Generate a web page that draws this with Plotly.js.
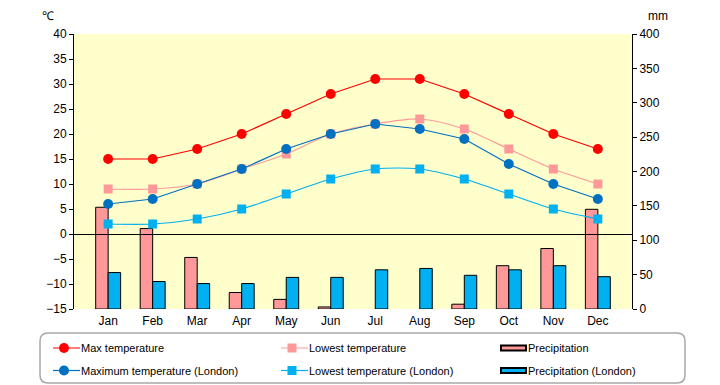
<!DOCTYPE html>
<html>
<head>
<meta charset="utf-8">
<script src="https://cdn.plot.ly/plotly-3.0.1.min.js"></script>
<style>html,body{margin:0;padding:0;background:#fff;}#chart{width:720px;height:385px;}</style>
</head>
<body>
<div id="chart"></div>
<script>
var months = ["Jan","Feb","Mar","Apr","May","Jun","Jul","Aug","Sep","Oct","Nov","Dec"];
var maxTemp = [15,15,17,20,24,28,31,31,28,24,20,17];
var lowTemp = [9,9,10,13,16,20,22,23,21,17,13,10];
var precip = [148,117,75,24,14,3,0,0,7,63,88,145];
var londonMax = [6,7,10,13,17,20,22,21,19,14,10,7];
var londonLow = [2,2,3,5,8,11,13,13,11,8,5,3];
var londonPrecip = [53,40,37,37,46,46,57,59,49,57,63,47];

var FONT = "'Liberation Sans', Arial, sans-serif";

function outline(vals){ return vals.map(function(v){ return v > 0 ? 1 : 0; }); }

var traces = [
  {name:"Max temperature", x:months, y:maxTemp, type:"scatter", mode:"lines+markers", yaxis:"y2",
   line:{color:"#FF0000", width:1.2}, marker:{symbol:"circle", size:10, color:"#FF0000"}, legend:"legend"},
  {name:"Lowest temperature", x:months, y:lowTemp, type:"scatter", mode:"lines+markers", yaxis:"y2",
   line:{color:"#FF9999", width:1.2, shape:"spline", smoothing:0.8}, marker:{symbol:"square", size:9, color:"#FF9999"}, legend:"legend2"},
  {name:"Precipitation", x:months, y:precip, type:"bar", yaxis:"y",
   marker:{color:"#FF9999", line:{color:"#000", width:outline(precip)}}, legend:"legend3"},
  {name:"Maximum temperature (London)", x:months, y:londonMax, type:"scatter", mode:"lines+markers", yaxis:"y2",
   line:{color:"#0070C0", width:1.2}, marker:{symbol:"circle", size:10, color:"#0070C0"}, legend:"legend4"},
  {name:"Lowest temperature (London)", x:months, y:londonLow, type:"scatter", mode:"lines+markers", yaxis:"y2",
   line:{color:"#00B0F0", width:1.2, shape:"spline", smoothing:0.8}, marker:{symbol:"square", size:9, color:"#00B0F0"}, legend:"legend5"},
  {name:"Precipitation (London)", x:months, y:londonPrecip, type:"bar", yaxis:"y",
   marker:{color:"#00B0F0", line:{color:"#000", width:outline(londonPrecip)}}, legend:"legend6"}
];

function px2x(p){return (p-74)/558;}
function px2y(p){return (309-p)/275;}
var L=40,R=685,T=333,B=383,rx=8,ry=8;
var framePath = "M"+px2x(L+rx)+","+px2y(T)+" L"+px2x(R-rx)+","+px2y(T)+
  " Q"+px2x(R)+","+px2y(T)+" "+px2x(R)+","+px2y(T+ry)+
  " L"+px2x(R)+","+px2y(B-ry)+" Q"+px2x(R)+","+px2y(B)+" "+px2x(R-rx)+","+px2y(B)+
  " L"+px2x(L+rx)+","+px2y(B)+" Q"+px2x(L)+","+px2y(B)+" "+px2x(L)+","+px2y(B-ry)+
  " L"+px2x(L)+","+px2y(T+ry)+" Q"+px2x(L)+","+px2y(T)+" "+px2x(L+rx)+","+px2y(T)+" Z";

function legendOpts(xPx, yPx){
  return {orientation:"h", xanchor:"left", yanchor:"middle", bgcolor:"rgba(0,0,0,0)",
    font:{family:FONT, size:11, color:"#000"}, itemwidth:30,
    x:px2x(xPx), y:px2y(yPx)};
}

var layout = {
  width:720, height:385,
  margin:{l:74, r:88, t:34, b:76, autoexpand:false},
  paper_bgcolor:"#FFFFFF",
  plot_bgcolor:"#FFFFCC",
  font:{family:FONT, size:12, color:"#000"},
  barmode:"group", bargap:0.44, bargroupgap:0,
  showlegend:true,
  xaxis:{type:"category", showline:false, ticks:"", showgrid:false, zeroline:false,
    ticklabelstandoff:3, tickfont:{family:FONT, size:12}, fixedrange:true},
  yaxis:{side:"right", range:[0,400], dtick:50, tick0:0, showline:true, linecolor:"#000", linewidth:1,
    ticks:"outside", ticklen:4, tickcolor:"#000", showgrid:false, zeroline:false, tickfont:{family:FONT, size:12}},
  yaxis2:{side:"left", overlaying:"y", range:[-15,40], dtick:5, tick0:0, showline:true, linecolor:"#000", linewidth:1,
    ticks:"outside", ticklen:4, tickcolor:"#000", showgrid:false, zeroline:true, zerolinecolor:"#000", zerolinewidth:1,
    zerolinelayer:"above traces", tickfont:{family:FONT, size:12}},
  legend:legendOpts(41, 348),
  legend2:legendOpts(269, 348),
  legend3:legendOpts(488, 348),
  legend4:legendOpts(41, 370.5),
  legend5:legendOpts(269, 370.5),
  legend6:legendOpts(488, 370.5),
  annotations:[
    {text:"℃", xref:"paper", yref:"paper", x:px2x(48), y:px2y(16), xanchor:"center", yanchor:"middle", showarrow:false, font:{family:FONT, size:12}},
    {text:"mm", xref:"paper", yref:"paper", x:px2x(658), y:px2y(16), xanchor:"center", yanchor:"middle", showarrow:false, font:{family:FONT, size:12}}
  ],
  shapes:[
    {type:"path", xref:"paper", yref:"paper", path:framePath, line:{color:"#A8A8A8", width:1.5}, fillcolor:"rgba(0,0,0,0)", layer:"below"}
  ]
};

function tidyLegend(gd){
  gd.querySelectorAll("g.traces").forEach(function(g){
    var d = g.__data__;
    var tr = d && d[0] && d[0].trace;
    if (!tr) return;
    g.querySelectorAll("path").forEach(function(p){
      var dd = p.getAttribute("d") || "";
      if (tr.type === "scatter") {
        if (/^M5,0h30/.test(dd) || /^M12,0h27/.test(dd)) {
          p.setAttribute("d", "M12,0h27");
        } else {
          p.setAttribute("transform", "translate(23,0)");
        }
      } else if (tr.type === "bar") {
        p.setAttribute("d", "M-12.5,2.5H12.5V-2.5H-12.5Z");
        p.setAttribute("transform", "translate(25.5,0)");
        p.style.strokeWidth = "2px";
        p.style.stroke = "#000";
      }
    });
  });
}

Plotly.newPlot("chart", traces, layout, {staticPlot:true, displayModeBar:false}).then(function(gd){
  tidyLegend(gd);
  setTimeout(function(){ tidyLegend(gd); }, 0);
});
</script>
</body>
</html>
